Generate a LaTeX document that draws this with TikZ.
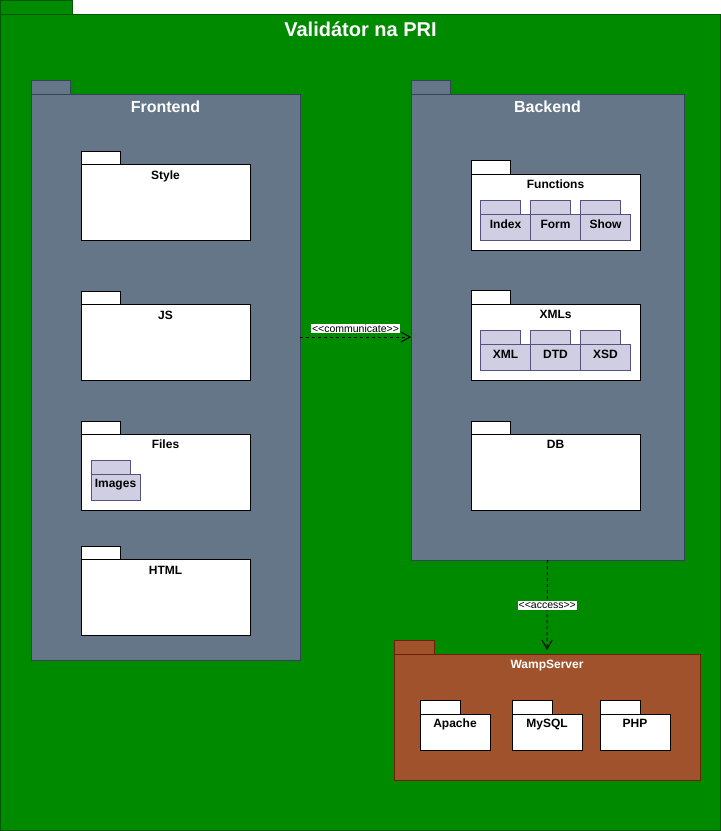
\documentclass[tikz,border=0pt]{standalone}
\usepackage{fontspec}
\setmainfont{Liberation Sans}
\usetikzlibrary{arrows.meta,calc}

\definecolor{pkggreen}{HTML}{008A00}
\definecolor{pkggreenline}{HTML}{005700}
\definecolor{slatefill}{HTML}{647687}
\definecolor{slateline}{HTML}{314354}
\definecolor{lilacfill}{HTML}{D0CEE2}
\definecolor{lilacline}{HTML}{56517E}
\definecolor{brownfill}{HTML}{A0522D}
\definecolor{brownline}{HTML}{6D1F00}

% a UML package: body node plus a tab sitting on its top-left corner
% #1 name, #2 style, #3 x, #4 y, #5 width, #6 height, #7 tab width, #8 tab height
\newcommand\umlpkg[8]{%
  \node[#2, minimum width=#5pt, minimum height=#6pt, anchor=north west] (#1) at (#3,#4) {};
  \node[#2, minimum width=#7pt, minimum height=#8pt, anchor=south west] (#1-tab) at (#1.north west) {};%
}

\tikzset{
  pkg/.style={rectangle, draw, line width=1pt, inner sep=0pt, outer sep=0pt},
  outerpkg/.style={pkg, fill=pkggreen, draw=pkggreenline},
  slatepkg/.style={pkg, fill=slatefill, draw=slateline},
  whitepkg/.style={pkg, fill=white, draw=black},
  lilacpkg/.style={pkg, fill=lilacfill, draw=lilacline},
  brownpkg/.style={pkg, fill=brownfill, draw=brownline},
  lbl/.style={inner sep=0pt, anchor=base, font=\bfseries\fontsize{12}{14}\selectfont},
  biglbl/.style={lbl, text=white, font=\bfseries\fontsize{16}{18}\selectfont},
  titlelbl/.style={lbl, text=white, font=\bfseries\fontsize{20}{22}\selectfont},
  dep/.style={line width=1pt, dash pattern=on 3pt off 3pt,
              -{Straight Barb[length=9pt,width=10pt,line width=1pt]}},
  edgelbl/.style={fill=white, inner xsep=1pt, inner ysep=1pt,
                  font=\fontsize{10.5}{11.5}\selectfont},
}

\begin{document}
\begin{tikzpicture}[x=1pt, y=-1pt]
  \fill[white] (0,0) rectangle (721,831);
  \useasboundingbox (0,0) rectangle (721,831);

  % outer package
  \umlpkg{system}{outerpkg}{0.5}{14}{720}{816.5}{72}{13.5}
  \node[titlelbl] (system-label) at ([yshift=-22.5pt]system.north) {Validátor na PRI};

  % Frontend
  \umlpkg{frontend}{slatepkg}{31}{94}{269}{566}{39}{14}
  \node[biglbl] (frontend-label) at ([yshift=-18.5pt]frontend.north) {Frontend};

  \umlpkg{style}{whitepkg}{81}{164}{169}{76}{39}{13}
  \node[lbl] (style-label) at ([yshift=-15pt]style.north) {Style};
  \umlpkg{js}{whitepkg}{81}{304}{169}{76}{39}{13}
  \node[lbl] (js-label) at ([yshift=-15pt]js.north) {JS};
  \umlpkg{files}{whitepkg}{81}{434}{169}{76}{39}{13}
  \node[lbl] (files-label) at ([yshift=-14pt]files.north) {Files};
  \umlpkg{images}{lilacpkg}{91}{474}{49}{26}{39}{14}
  \node[lbl] (images-label) at ([yshift=-13.5pt]images.north) {Images};
  \umlpkg{html}{whitepkg}{81}{559}{169}{76}{39}{13}
  \node[lbl] (html-label) at ([yshift=-15pt]html.north) {HTML};

  % Backend
  \umlpkg{backend}{slatepkg}{411}{94}{273}{466}{39}{14}
  \node[biglbl] (backend-label) at ([yshift=-18.5pt]backend.north) {Backend};

  \umlpkg{functions}{whitepkg}{471}{174}{169}{76}{39}{14}
  \node[lbl] (functions-label) at ([yshift=-14.5pt]functions.north) {Functions};
  \umlpkg{index}{lilacpkg}{480.5}{214}{50}{26}{40}{14}
  \node[lbl] (index-label) at ([yshift=-14.5pt]index.north) {Index};
  \umlpkg{form}{lilacpkg}{530.5}{214}{50}{26}{40}{14}
  \node[lbl] (form-label) at ([yshift=-14.5pt]form.north) {Form};
  \umlpkg{show}{lilacpkg}{580.5}{214}{50}{26}{40}{14}
  \node[lbl] (show-label) at ([yshift=-14.5pt]show.north) {Show};

  \umlpkg{xmls}{whitepkg}{471}{304}{169}{76}{39}{14}
  \node[lbl] (xmls-label) at ([yshift=-14.5pt]xmls.north) {XMLs};
  \umlpkg{xml}{lilacpkg}{480.5}{344}{50}{26}{40}{14}
  \node[lbl] (xml-label) at ([yshift=-14.5pt]xml.north) {XML};
  \umlpkg{dtd}{lilacpkg}{530.5}{344}{50}{26}{40}{14}
  \node[lbl] (dtd-label) at ([yshift=-14.5pt]dtd.north) {DTD};
  \umlpkg{xsd}{lilacpkg}{580.5}{344}{50}{26}{40}{14}
  \node[lbl] (xsd-label) at ([yshift=-14.5pt]xsd.north) {XSD};

  \umlpkg{db}{whitepkg}{471}{434}{169}{76}{39}{13}
  \node[lbl] (db-label) at ([yshift=-14pt]db.north) {DB};

  % WampServer
  \umlpkg{wamp}{brownpkg}{394}{654}{306}{126}{40}{14}
  \node[lbl, text=white] (wamp-label) at ([yshift=-14pt]wamp.north) {WampServer};
  \umlpkg{apache}{whitepkg}{420}{714}{70}{36}{40}{14}
  \node[lbl] (apache-label) at ([yshift=-13.5pt]apache.north) {Apache};
  \umlpkg{mysql}{whitepkg}{512}{714}{70}{36}{40}{14}
  \node[lbl] (mysql-label) at ([yshift=-13.5pt]mysql.north) {MySQL};
  \umlpkg{php}{whitepkg}{600}{714}{70}{36}{40}{14}
  \node[lbl] (php-label) at ([yshift=-13.5pt]php.north) {PHP};

  % dependencies
  \draw[dep] (frontend.east |- 0,337) -- node[edgelbl, yshift=8.5pt] (communicate-label)
    {<\kern0pt<communicate>\kern0pt>} (backend.west |- 0,337);
  \draw[dep, shorten >=4pt] (backend.south) -- node[edgelbl, pos=0.484] (access-label)
    {<\kern0pt<access>\kern0pt>} (wamp.north);
\end{tikzpicture}
\end{document}
